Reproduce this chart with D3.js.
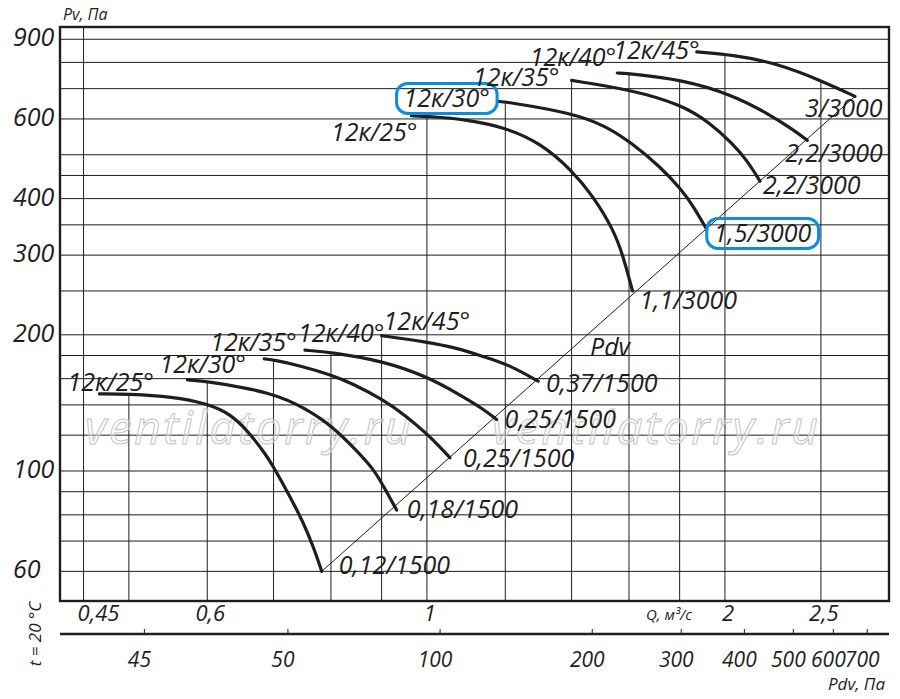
<!DOCTYPE html>
<html>
<head>
<meta charset="utf-8">
<script src="https://cdn.jsdelivr.net/npm/d3@7"></script>
<style>
  body { margin: 0; background: #fff; }
  svg { display: block; font-family: "Open Sans", "DejaVu Sans", sans-serif; font-style: italic; }
</style>
</head>
<body>
<svg id="chart" width="900" height="699"></svg>
<script>
// grid and tick values
const pvGrid = [60, 70, 80, 90, 100, 120, 140, 160, 180, 200, 250, 300, 350, 400, 450, 500, 600, 700, 800, 900];
const pvTicks = [60, 100, 200, 300, 400, 600, 900];
const qGrid = [0.45, 0.5, 0.6, 0.7, 0.8, 0.9, 1, 1.2, 1.4, 1.6, 1.8, 2, 2.5];
const qTicks = [0.45, 0.6, 1, 2, 2.5];
const qTickLabels = ["0,45", "0,6", "1", "2", "2,5"];
const pdvTicks = [26, 50, 100, 200, 300, 400, 500, 600, 700];
const pdvTickLabels = ["45", "50", "100", "200", "300", "400", "500", "600", "700"];

const bladeLabels = ["12к/25°", "12к/30°", "12к/35°", "12к/40°", "12к/45°"];

// 1500 rpm curves (Q m3/s, Pv Pa)
const q1500 = [
    [0.467, 0.499, 0.554, 0.599, 0.633, 0.663, 0.689, 0.700, 0.727, 0.750, 0.768, 0.783],
    [0.573, 0.599, 0.700, 0.756, 0.801, 0.849, 0.883, 0.903, 0.932],
    [0.685, 0.700, 0.744, 0.801, 0.836, 0.903, 0.954, 0.999, 1.031, 1.055],
    [0.753, 0.801, 0.903, 0.999, 1.088, 1.140, 1.176],
    [0.900, 0.999, 1.072, 1.140, 1.208, 1.295]
];
const pv1500 = [
    [148, 148, 146, 141, 134, 121, 108, 102, 88, 77, 68, 60],
    [159, 158, 149, 137, 126, 111, 101, 93, 82],
    [177, 176, 171, 163, 157, 144, 132, 121, 113, 107],
    [185, 183, 175, 162, 146, 137, 130],
    [199, 193, 187, 179, 172, 158]
];
const motors1500 = ["0,12/1500", "0,18/1500", "0,25/1500", "0,25/1500", "0,37/1500"];

// 3000 rpm curves
const q3000 = [
    [0.965, 1.003, 1.097, 1.204, 1.301, 1.400, 1.472, 1.543, 1.579, 1.613],
    [1.180, 1.204, 1.400, 1.519, 1.609, 1.720, 1.809, 1.858, 1.917],
    [1.400, 1.609, 1.809, 1.932, 2.032, 2.104, 2.170],
    [1.557, 1.609, 1.809, 2.032, 2.204, 2.344, 2.422],
    [1.873, 2.032, 2.256, 2.514, 2.706]
];
const pv3000 = [
    [610, 608, 598, 573, 531, 463, 405, 342, 298, 250],
    [656, 654, 619, 578, 531, 471, 418, 385, 342],
    [730, 696, 645, 588, 531, 487, 437],
    [758, 755, 733, 679, 619, 568, 538],
    [844, 832, 797, 726, 673]
];
const motors3000 = ["1,1/3000", "1,5/3000", "2,2/3000", "2,2/3000", "3/3000"];

// Pdv line
const pdvLineQ = [0.783, 2.706];
const pdvLinePv = [60, 673];

// highlighted curve (3000 rpm, index)
const highlight3000 = 1;

// ---------- layout ----------
const plot = {left: 60, right: 889, top: 27, bottom: 601};
const ink = "#1e1e1e";
const labelSize = 25;

const svg = d3.select("#chart");
const x = d3.scaleLog().domain([0.426, 2.929]).range([plot.left, plot.right]);
const y = d3.scaleLog().domain([51.6, 958]).range([plot.bottom, plot.top]);
const xPdv = d3.scaleLog().domain([17.7, 773]).range([plot.left, plot.right]);

// label offsets in px (blade label from curve start, motor label from curve end)
const bladeOff1500 = [[-32, -3], [-28, -7], [-54, -8], [-7, -8], [2, -6]];
const bladeOff3000 = [[6, 25], [-8, 6], [-12, 6], [-1, -7], [3, 7]];
const motorOff1500 = [[17, 3], [10, 8], [13, 9], [8, 9], [8, 11]];
const motorOff3000 = [[7, 18], [7, 13], [3, 13], [-22, 22], [-50, 21]];

let curves = [];
q1500.forEach(function (q, i) {
    curves.push({q: q, pv: pv1500[i], blade: bladeLabels[i], motor: motors1500[i],
        bOff: bladeOff1500[i], bAnchor: "start", mOff: motorOff1500[i], hl: false});
});
q3000.forEach(function (q, i) {
    curves.push({q: q, pv: pv3000[i], blade: bladeLabels[i], motor: motors3000[i],
        bOff: bladeOff3000[i], bAnchor: "end", mOff: motorOff3000[i], hl: i === highlight3000});
});

// Pv of a curve at q (log-log interpolation), null if q outside curve
function pvAt(c, q) {
    let qs = c.q, pvs = c.pv;
    if (q < qs[0] - 0.004 || q > qs[qs.length - 1]) return null;
    for (let i = 0; i < qs.length - 1; i++) {
        if (q <= qs[i + 1]) {
            let t = (Math.log(q) - Math.log(qs[i])) / (Math.log(qs[i + 1]) - Math.log(qs[i]));
            t = Math.max(0, t);
            return Math.exp(Math.log(pvs[i]) + t * (Math.log(pvs[i + 1]) - Math.log(pvs[i])));
        }
    }
    return null;
}

// horizontal grid
svg.append("g").selectAll("line").data(pvGrid).enter().append("line")
    .attr("x1", plot.left).attr("x2", plot.right)
    .attr("y1", d => y(d)).attr("y2", d => y(d))
    .attr("stroke", ink).attr("stroke-width", 1);

// vertical grid: from the topmost curve down to the bottom
svg.append("g").selectAll("line").data(qGrid).enter().append("line")
    .attr("x1", d => x(d)).attr("x2", d => x(d))
    .attr("y1", function (d) {
        let top = null;
        for (let c of curves) {
            let v = pvAt(c, d);
            if (v !== null && (top === null || v > top)) top = v;
        }
        return top === null ? plot.top : y(top);
    })
    .attr("y2", plot.bottom)
    .attr("stroke", ink).attr("stroke-width", 1);

// watermark
svg.append("g").selectAll("text").data([85, 492]).enter().append("text")
    .attr("x", d => d).attr("y", 444)
    .attr("textLength", 326).attr("lengthAdjust", "spacing")
    .attr("font-size", 46).attr("fill", "#fff").attr("fill-opacity", 0.35)
    .attr("stroke", "#c4c4c4").attr("stroke-width", 1)
    .text("ventilatorry.ru");

// frame
svg.append("rect")
    .attr("x", plot.left).attr("y", plot.top)
    .attr("width", plot.right - plot.left).attr("height", plot.bottom - plot.top)
    .attr("fill", "none").attr("stroke", ink).attr("stroke-width", 2.4);

// Pdv line
svg.append("line")
    .attr("x1", x(pdvLineQ[0])).attr("y1", y(pdvLinePv[0]))
    .attr("x2", x(pdvLineQ[1])).attr("y2", y(pdvLinePv[1]))
    .attr("stroke", ink).attr("stroke-width", 1);
svg.append("text").attr("x", 590).attr("y", 356).attr("font-size", labelSize).attr("fill", ink).text("Pdv");

// curves
let line = d3.line()
    .x(d => x(d[0])).y(d => y(d[1]))
    .curve(d3.curveBasis);

svg.append("g").selectAll("path").data(curves).enter().append("path")
    .attr("d", c => line(c.q.map((q, i) => [q, c.pv[i]])))
    .attr("fill", "none").attr("stroke", ink).attr("stroke-width", 3.2)
    .attr("stroke-linecap", "round");

// labels
let labelG = svg.append("g").attr("font-size", labelSize).attr("fill", ink);
curves.forEach(function (c) {
    let sx = x(c.q[0]), sy = y(c.pv[0]);
    let ex = x(c.q[c.q.length - 1]), ey = y(c.pv[c.pv.length - 1]);
    let bt = labelG.append("text")
        .attr("x", sx + c.bOff[0]).attr("y", sy + c.bOff[1])
        .attr("text-anchor", c.bAnchor).text(c.blade);
    let mt = labelG.append("text")
        .attr("x", ex + c.mOff[0]).attr("y", ey + c.mOff[1])
        .text(c.motor);
    if (c.hl) {
        for (let t of [bt, mt]) {
            let b = t.node().getBBox();
            labelG.append("rect")
                .attr("x", b.x - 7).attr("y", b.y + 3)
                .attr("width", b.width + 14).attr("height", b.height - 4)
                .attr("rx", 11).attr("ry", 11)
                .attr("fill", "none").attr("stroke", "#0a8fe0").attr("stroke-width", 3);
        }
    }
});

// Pv axis labels
svg.append("g").selectAll("text").data(pvTicks).enter().append("text")
    .attr("x", 13).attr("y", d => y(d) + 7)
    .attr("font-size", 25).attr("fill", ink)
    .text(d => d);
svg.append("text").attr("x", 63).attr("y", 20).attr("font-size", 16).attr("fill", ink).text("Pv, Па");

// Q axis labels
svg.append("g").selectAll("text").data(qTicks).enter().append("text")
    .attr("x", (d, i) => i === 0 ? x(d) - 6 : x(d) + 3).attr("y", 621)
    .attr("text-anchor", (d, i) => i === 0 ? "start" : "middle")
    .attr("font-size", 22).attr("fill", ink)
    .text((d, i) => qTickLabels[i]);
svg.append("text").attr("x", 646).attr("y", 620).attr("font-size", 15).attr("fill", ink).text("Q, м³/с");

// Pdv axis
let axisY = 634;
svg.append("line")
    .attr("x1", plot.left).attr("x2", plot.right)
    .attr("y1", axisY).attr("y2", axisY)
    .attr("stroke", ink).attr("stroke-width", 2.4);
svg.append("g").selectAll("line").data(pdvTicks).enter().append("line")
    .attr("x1", d => xPdv(d)).attr("x2", d => xPdv(d))
    .attr("y1", axisY - 5).attr("y2", axisY)
    .attr("stroke", ink).attr("stroke-width", 1);
svg.append("g").selectAll("text").data(pdvTicks).enter().append("text")
    .attr("x", d => xPdv(d) - 5).attr("y", 667)
    .attr("text-anchor", "middle")
    .attr("font-size", 21).attr("fill", ink)
    .text((d, i) => pdvTickLabels[i]);
svg.append("text").attr("x", 885).attr("y", 690).attr("text-anchor", "end")
    .attr("font-size", 17).attr("fill", ink).text("Pdv, Па");

svg.append("text").attr("transform", "translate(41,634) rotate(-90)")
    .attr("text-anchor", "middle").attr("font-size", 17).attr("fill", ink)
    .text("t = 20 °C");
</script>
</body>
</html>
